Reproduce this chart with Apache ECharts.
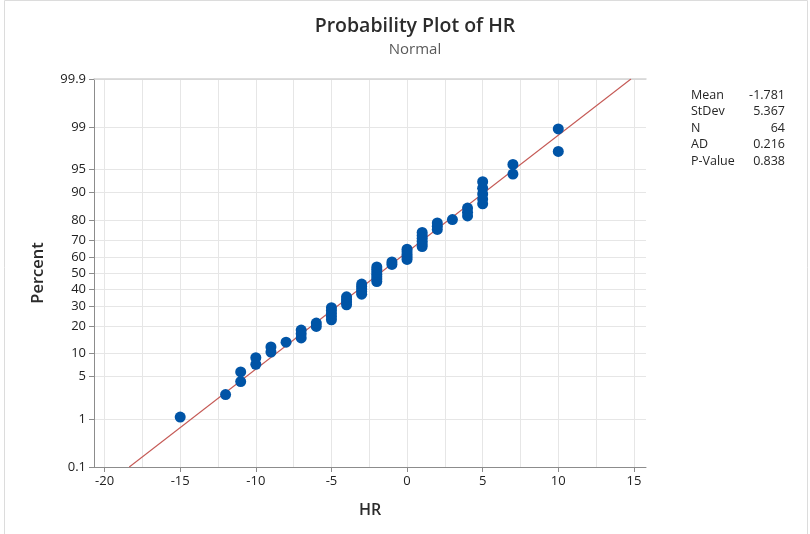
<!DOCTYPE html>
<html>
<head>
<meta charset="utf-8">
<script src="https://cdn.jsdelivr.net/npm/echarts@6/dist/echarts.min.js"></script>
<style>
  html, body { margin: 0; padding: 0; background: #fff; }
  #chart { width: 810px; height: 534px; }
</style>
</head>
<body>
<div id="chart"></div>
<script>
// HR observations (n = 64), sorted
const hr = [
  -15, -12, -11, -11, -10, -10, -9, -9, -8, -7, -7, -7, -6, -6,
  -5, -5, -5, -5, -5, -4, -4, -4, -4, -3, -3, -3, -3, -3,
  -2, -2, -2, -2, -2, -2, -2, -1, -1, 0, 0, 0, 0, 0,
  1, 1, 1, 1, 1, 1, 2, 2, 2, 3, 4, 4, 4, 5, 5, 5, 5, 5,
  7, 7, 10, 10
];

// Percent scale tick labels
const percentTicks = [0.1, 1, 5, 10, 20, 30, 40, 50, 60, 70, 80, 90, 95, 99, 99.9];
// HR axis ticks and gridlines
const xTicks = [-20, -15, -10, -5, 0, 5, 10, 15];
const xGridLines = [-20, -17.5, -15, -12.5, -10, -7.5, -5, -2.5, 0, 2.5, 5, 7.5, 10, 12.5, 15];

// Goodness-of-fit results
const statNames = ['Mean', 'StDev', 'N', 'AD', 'P-Value'];
const adValue = '0.216';
const pValue = '0.838';

// Inverse standard normal CDF (Acklam)
function probit(p) {
  const a = [-3.969683028665376e+01, 2.209460984245205e+02, -2.759285104469687e+02,
             1.383577518672690e+02, -3.066479806614716e+01, 2.506628277459239e+00];
  const b = [-5.447609879822406e+01, 1.615858368580409e+02, -1.556989798598866e+02,
             6.680131188771972e+01, -1.328068155288572e+01];
  const c = [-7.784894002430293e-03, -3.223964580411365e-01, -2.400758277161838e+00,
             -2.549732539343734e+00, 4.374664141464968e+00, 2.938163982698783e+00];
  const d = [7.784695709041462e-03, 3.224671290700398e-01, 2.445134137142996e+00,
             3.754408661907416e+00];
  const plow = 0.02425, phigh = 1 - plow;
  let q, r;
  if (p < plow) {
    q = Math.sqrt(-2 * Math.log(p));
    return (((((c[0]*q+c[1])*q+c[2])*q+c[3])*q+c[4])*q+c[5]) /
           ((((d[0]*q+d[1])*q+d[2])*q+d[3])*q+1);
  }
  if (p <= phigh) {
    q = p - 0.5; r = q * q;
    return (((((a[0]*r+a[1])*r+a[2])*r+a[3])*r+a[4])*r+a[5])*q /
           (((((b[0]*r+b[1])*r+b[2])*r+b[3])*r+b[4])*r+1);
  }
  q = Math.sqrt(-2 * Math.log(1 - p));
  return -(((((c[0]*q+c[1])*q+c[2])*q+c[3])*q+c[4])*q+c[5]) /
          ((((d[0]*q+d[1])*q+d[2])*q+d[3])*q+1);
}

const n = hr.length;
const mean = hr.reduce((s, v) => s + v, 0) / n;
const sd = Math.sqrt(hr.reduce((s, v) => s + (v - mean) * (v - mean), 0) / (n - 1));

// Median-rank plotting positions
const sorted = hr.slice().sort((x, y) => x - y);
const points = sorted.map((v, i) => [v, probit((i + 1 - 0.3) / (n + 0.4))]);

const zMin = probit(percentTicks[0] / 100);
const zMax = probit(percentTicks[percentTicks.length - 1] / 100);
const zTicks = percentTicks.map(p => probit(p / 100));
const fitLine = [[mean + zMin * sd, zMin], [mean + zMax * sd, zMax]];

function percentLabel(z) {
  let best = 0, bd = Infinity;
  zTicks.forEach((t, i) => { const dd = Math.abs(t - z); if (dd < bd) { bd = dd; best = i; } });
  return String(percentTicks[best]);
}

const statValues = [mean.toFixed(3), sd.toFixed(3), String(n), adValue, pValue];

const FONT = '"Open Sans", "Noto Sans", sans-serif';
const AXIS_GRAY = '#8c8c8c';
const STAT_TOP = 87, STAT_ROW = 16.5;

// Statistics table: names on the left, values right-aligned
const statGraphics = [
  {
    type: 'text', left: 691, top: STAT_TOP, silent: true,
    style: { text: statNames.join('\n'), font: '12.5px ' + FONT, lineHeight: STAT_ROW, fill: '#262626' }
  }
].concat(statValues.map((v, i) => ({
  type: 'text', right: 25, top: STAT_TOP + i * STAT_ROW, silent: true,
  style: { text: v, font: '12.5px ' + FONT, lineHeight: STAT_ROW, fill: '#262626' }
})));

const chart = echarts.init(document.getElementById('chart'), null, { renderer: 'canvas' });

chart.setOption({
  animation: false,
  backgroundColor: '#fff',
  textStyle: { fontFamily: FONT },
  title: {
    text: 'Probability Plot of HR',
    subtext: 'Normal',
    left: 410,
    textAlign: 'center',
    top: 11,
    itemGap: 6,
    textStyle: { fontFamily: FONT, fontSize: 19.5, fontWeight: 600, color: '#2b2b2b' },
    subtextStyle: { fontFamily: FONT, fontSize: 15, color: '#5a5a5a' }
  },
  grid: { left: 94, right: 164, top: 79, bottom: 67, containLabel: false },
  xAxis: [
    {
      type: 'value', min: -20.7, max: 15.8,
      name: 'HR', nameLocation: 'middle', nameGap: 35,
      nameTextStyle: { fontFamily: FONT, fontSize: 16, fontWeight: 600, color: '#2b2b2b' },
      axisLine: { show: true, onZero: false, lineStyle: { color: AXIS_GRAY, width: 1 } },
      axisTick: { show: true, length: 5, customValues: xTicks, lineStyle: { color: AXIS_GRAY } },
      axisLabel: { customValues: xTicks, color: '#222', fontSize: 13, margin: 8, fontFamily: FONT },
      splitLine: { show: false }
    },
    {
      type: 'value', min: -20.7, max: 15.8, position: 'bottom',
      axisLine: { show: false }, axisLabel: { show: false },
      axisTick: { show: false, customValues: xGridLines },
      splitLine: { show: true, lineStyle: { color: '#e6e6e6', width: 1 } }
    },
    {
      // upper frame edge of the plot area
      type: 'value', min: -20.7, max: 15.8, position: 'top',
      axisLine: { show: true, onZero: false, lineStyle: { color: '#d4d4d4', width: 1.5 } },
      axisLabel: { show: false }, axisTick: { show: false }, splitLine: { show: false }
    }
  ],
  yAxis: {
    type: 'value', min: zMin, max: zMax,
    name: 'Percent', nameLocation: 'middle', nameGap: 47, nameRotate: 90,
    nameTextStyle: { fontFamily: FONT, fontSize: 16.5, fontWeight: 600, color: '#2b2b2b' },
    axisLine: { show: true, onZero: false, lineStyle: { color: AXIS_GRAY, width: 1 } },
    axisTick: { show: true, length: 5, customValues: zTicks, lineStyle: { color: AXIS_GRAY } },
    axisLabel: { customValues: zTicks, formatter: percentLabel, color: '#222', fontSize: 13, margin: 8, fontFamily: FONT },
    splitLine: { show: true, lineStyle: { color: '#e6e6e6', width: 1 } }
  },
  graphic: [
    {
      type: 'rect', silent: true, z: -10,
      shape: { x: 4.5, y: 0.5, width: 803, height: 540 },
      style: { fill: 'none', stroke: '#dcdcdc', lineWidth: 1 }
    }
  ].concat(statGraphics),
  series: [
    {
      type: 'line', xAxisIndex: 0, data: fitLine, showSymbol: false, symbol: 'none',
      clip: true, silent: true, z: 2,
      lineStyle: { color: '#c55a56', width: 1.1 }
    },
    {
      type: 'scatter', xAxisIndex: 0, data: points, symbol: 'circle', symbolSize: 11, z: 3,
      itemStyle: { color: '#0054a6', opacity: 1 }
    }
  ]
});
</script>
</body>
</html>
